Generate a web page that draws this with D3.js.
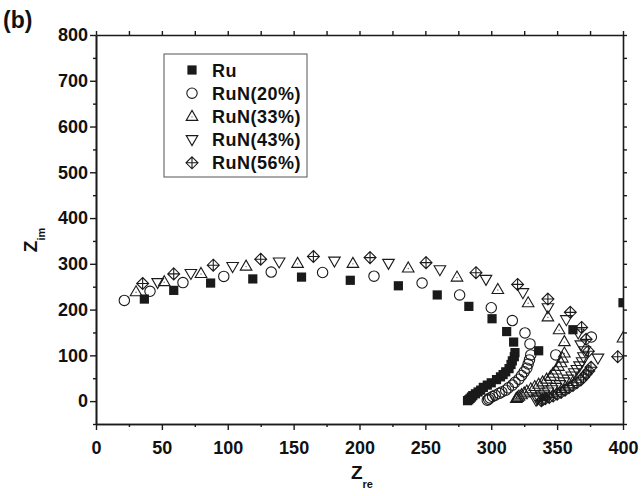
<!DOCTYPE html>
<html>
<head>
<meta charset="utf-8">
<script src="https://cdn.jsdelivr.net/npm/d3@7"></script>
<style>
  body { margin: 0; background: #fff; }
  svg text { font-family: "Liberation Sans", Arial, sans-serif; font-weight: bold; fill: #111; }
</style>
</head>
<body>
<div id="chart"></div>
<script>
'use strict';

// series: [Zre, Zim]
const ru = [
    [36.7, 223], [59, 242], [87, 258], [119, 267], [156, 271], [193, 264], [229.5, 252], [259, 232],
    [283, 207], [300.6, 180], [311.7, 152], [317, 129], [318, 106], [317.5, 97], [316, 88], [315, 80],
    [313.5, 71], [311, 64], [309, 58], [307, 53], [304, 47], [300, 40], [297, 35], [294, 30], [292, 24],
    [290, 20], [288, 16], [286, 12], [285, 9], [284, 6], [283, 3], [282, 1],
    [336, 110], [362, 156], [400, 215]
];
const ruN20 = [
    [21.5, 220], [41, 240], [66, 259], [97, 272.5], [133, 282], [172, 281], [211, 273], [247.5, 258],
    [276, 232], [300, 204], [316, 176], [325.6, 149], [329.4, 125], [330, 101], [329, 90], [328, 81],
    [327, 72], [325, 64], [323, 56], [321, 48], [318, 41], [316, 35], [313, 29], [311, 24], [308, 20],
    [306, 17], [303, 13], [301, 10], [299, 7], [298, 4], [297, 2],
    [349, 101], [376, 140]
];
const ruN33 = [
    [30.4, 239], [51.8, 261], [79.7, 279], [113.9, 295], [153, 301], [195, 301], [237, 291], [274, 271],
    [305, 244], [328, 215], [343, 184], [351.5, 156], [355.5, 130], [355.5, 105], [354, 94], [353, 84],
    [351, 76], [349, 68], [347, 61], [345, 54], [342, 48], [339, 42], [336, 37], [333, 32], [330, 27],
    [327, 22], [325, 18], [323, 14], [321, 11], [320, 8], [319, 6],
    [400, 138]
];
const ruN43 = [
    [46.8, 259], [72, 279], [103.7, 294], [139, 304], [181, 306], [222, 301], [261, 287], [296, 266],
    [324, 237], [343, 204], [357, 178], [366, 149], [368, 123], [381, 94], [371, 110], [370, 97],
    [369, 86], [367, 77], [365, 69], [363, 62], [361, 55], [358, 48], [355, 42], [352, 36], [349, 30],
    [346, 25], [343, 20], [340, 15], [338, 11], [336, 7], [335, 4], [334, 2]
];
const ruN56 = [
    [35.4, 257], [59, 278], [89, 297], [125, 310], [165, 316], [208, 313.6], [250.5, 302.6], [288.4, 280.6],
    [320, 255], [343, 223], [360, 194], [368.6, 161], [372, 135], [373.7, 109], [375.7, 74], [396, 97],
    [374, 66], [372, 59], [370, 52], [368, 46], [365, 40], [362, 34], [359, 29], [356, 24], [353, 19],
    [350, 15], [347, 11], [344, 8], [341, 5], [339, 3], [338, 1]
];

const seriesNames = ["Ru", "RuN(20%)", "RuN(33%)", "RuN(43%)", "RuN(56%)"];
const seriesData = [ru, ruN20, ruN33, ruN43, ruN56];
const seriesSymbols = ["square", "circle", "triangleUp", "triangleDown", "crossDiamond"];

const xTicks = [0, 50, 100, 150, 200, 250, 300, 350, 400];
const yTicks = [0, 100, 200, 300, 400, 500, 600, 700, 800];

const W = 644, H = 496;
const plot = { left: 96, right: 623, top: 35, bottom: 424 };
const ink = "#1a1a1a";

const svg = d3.select("#chart").append("svg")
    .attr("width", W)
    .attr("height", H);

const x = d3.scaleLinear().domain([0, 400]).range([plot.left, plot.right]);
const y = d3.scaleLinear().domain([-50, 800]).range([plot.bottom, plot.top]);

// marker shapes
function drawMarker(g, type) {
    if (type === "square") {
        g.append("rect").attr("x", -4.6).attr("y", -4.6).attr("width", 9.2).attr("height", 9.2)
            .attr("fill", ink);
    } else if (type === "circle") {
        g.append("circle").attr("r", 5.2).attr("fill", "none").attr("stroke", ink).attr("stroke-width", 1.1);
    } else if (type === "triangleUp") {
        g.append("path").attr("d", "M0,-6L5.8,4L-5.8,4Z").attr("fill", "none").attr("stroke", ink).attr("stroke-width", 1.1);
        g.append("circle").attr("cy", 0.5).attr("r", 0.7).attr("fill", "#666");
    } else if (type === "triangleDown") {
        g.append("path").attr("d", "M0,6L5.8,-4L-5.8,-4Z").attr("fill", "none").attr("stroke", ink).attr("stroke-width", 1.1);
    } else if (type === "crossDiamond") {
        g.append("path").attr("d", "M0,-6L6,0L0,6L-6,0Z M0,-6V6 M-6,0H6")
            .attr("fill", "none").attr("stroke", ink).attr("stroke-width", 1.1);
    }
}

// clip markers to the frame
svg.append("clipPath").attr("id", "plot-clip")
    .append("rect")
    .attr("x", plot.left).attr("y", plot.top)
    .attr("width", plot.right - plot.left).attr("height", plot.bottom - plot.top);

const pts = svg.append("g").attr("clip-path", "url(#plot-clip)");
seriesData.forEach((data, i) => {
    pts.append("g").selectAll("g")
        .data(data)
        .enter()
        .append("g")
        .attr("transform", d => `translate(${x(d[0])},${y(d[1])})`)
        .each(function () { drawMarker(d3.select(this), seriesSymbols[i]); });
});

// axes (major + minor ticks, mirrored on top/right)
const minorX = d3.range(25, 400, 50);
const minorY = d3.range(-50, 800, 100);

function styleAxis(g) {
    g.select(".domain").attr("stroke", ink).attr("stroke-width", 1.6);
    g.selectAll(".tick line").attr("stroke", ink).attr("stroke-width", 1.4);
    g.selectAll("text").attr("font-size", "18px").attr("fill", ink)
        .attr("font-family", "'Liberation Sans', Arial, sans-serif").attr("font-weight", "bold");
}

svg.append("g").attr("transform", `translate(0,${plot.bottom})`)
    .call(d3.axisBottom(x).tickValues(xTicks).tickSize(6).tickPadding(11).tickSizeOuter(0))
    .call(styleAxis);
svg.append("g").attr("transform", `translate(0,${plot.bottom})`)
    .call(d3.axisBottom(x).tickValues(minorX).tickSize(3).tickFormat("").tickSizeOuter(0))
    .call(styleAxis);
svg.append("g").attr("transform", `translate(${plot.left},0)`)
    .call(d3.axisLeft(y).tickValues(yTicks).tickSize(6).tickPadding(2).tickSizeOuter(0))
    .call(styleAxis);
svg.append("g").attr("transform", `translate(${plot.left},0)`)
    .call(d3.axisLeft(y).tickValues(minorY).tickSize(3).tickFormat("").tickSizeOuter(0))
    .call(styleAxis);
svg.append("g").attr("transform", `translate(0,${plot.top})`)
    .call(d3.axisTop(x).tickValues(xTicks.concat(minorX)).tickSize(4).tickFormat("").tickSizeOuter(0))
    .call(styleAxis);
svg.append("g").attr("transform", `translate(${plot.right},0)`)
    .call(d3.axisRight(y).tickValues(yTicks.concat(minorY)).tickSize(4).tickFormat("").tickSizeOuter(0))
    .call(styleAxis);

// axis titles
const xt = svg.append("text").attr("x", 362).attr("y", 479).attr("text-anchor", "middle");
xt.append("tspan").attr("font-size", "19px").text("Z");
xt.append("tspan").attr("font-size", "11px").attr("dy", 9).text("re");

const yt = svg.append("text")
    .attr("transform", "translate(37,240) rotate(-90)")
    .attr("text-anchor", "middle");
yt.append("tspan").attr("font-size", "19px").text("Z");
yt.append("tspan").attr("font-size", "11px").attr("dy", 8).text("im");

svg.append("text").attr("x", 3).attr("y", 28).attr("font-size", "23px").text("(b)");

// legend
const legend = svg.append("g").attr("class", "legend");
legend.append("rect")
    .attr("x", 164).attr("y", 54).attr("width", 143).attr("height", 123)
    .attr("fill", "#fff").attr("stroke", "#555").attr("stroke-width", 1);

const items = legend.selectAll(".legend-item")
    .data(seriesNames)
    .enter()
    .append("g")
    .attr("class", "legend-item")
    .attr("transform", (d, i) => `translate(192,${70 + i * 23.2})`);

items.each(function (d, i) { drawMarker(d3.select(this), seriesSymbols[i]); });
items.append("text")
    .attr("x", 20)
    .attr("y", 6.5)
    .attr("font-size", "18px")
    .attr("letter-spacing", "0.5px")
    .text(d => d);
</script>
</body>
</html>
